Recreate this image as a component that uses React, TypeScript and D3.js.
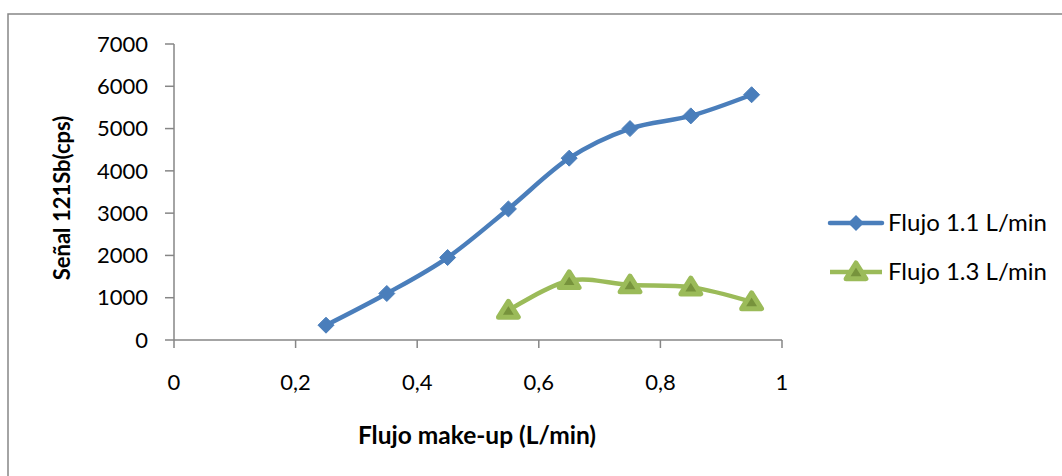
import React from "react";
import * as d3 from "d3";

const xValues = [0.25, 0.35, 0.45, 0.55, 0.65, 0.75, 0.85, 0.95];
const flujo11 = [350, 1100, 1950, 3100, 4300, 5000, 5300, 5800];
const xValues13 = [0.55, 0.65, 0.75, 0.85, 0.95];
const flujo13 = [700, 1400, 1300, 1250, 900];
const xTicks = [0, 0.2, 0.4, 0.6, 0.8, 1];
const yTicks = [0, 1000, 2000, 3000, 4000, 5000, 6000, 7000];
const seriesNames = ["Flujo 1.1 L/min", "Flujo 1.3 L/min"];

const BLUE = "#4A7EBB";
const GREEN = "#9BBB59";
const GREEN_DARK = "#77933C";
const AXIS = "#868686";
const FONT = "Lato, 'Open Sans', sans-serif";

export default function App() {
  const W = 1062, H = 476;
  const x = d3.scaleLinear().domain([0, 1]).range([174, 782]);
  const y = d3.scaleLinear().domain([0, 7000]).range([340, 44]);
  const line = d3.line<[number, number]>()
    .x(d => x(d[0])).y(d => y(d[1]))
    .curve(d3.curveCatmullRom.alpha(0));
  const s1: [number, number][] = xValues.map((v, i) => [v, flujo11[i]]);
  const s2: [number, number][] = xValues13.map((v, i) => [v, flujo13[i]]);

  const diamond = (cx: number, cy: number, r = 8) =>
    `M${cx},${cy - r}L${cx + r},${cy}L${cx},${cy + r}L${cx - r},${cy}Z`;
  const tri = (cx: number, cy: number, r: number) =>
    `M${cx},${cy - r}L${cx + r * 1.1},${cy + r * 0.75}L${cx - r * 1.1},${cy + r * 0.75}Z`;

  const Triangle = ({ cx, cy }: { cx: number; cy: number }) => (
    <g>
      <path d={tri(cx, cy, 9)} fill={GREEN_DARK} stroke={GREEN} strokeWidth={5} strokeLinejoin="round" />
    </g>
  );

  return (
    <svg width={W} height={H} style={{ position: "absolute", left: 0, top: 0, background: "#fff" }}>
      <rect x={8} y={14} width={1100} height={500} fill="#fff" stroke={AXIS} strokeWidth={1.5} />
      {/* axes */}
      <line x1={x(0)} x2={x(1)} y1={y(0)} y2={y(0)} stroke={AXIS} strokeWidth={1.5} />
      <line x1={x(0)} x2={x(0)} y1={y(0)} y2={y(7000)} stroke={AXIS} strokeWidth={1.5} />
      {yTicks.map(t => (
        <g key={"y" + t}>
          <line x1={x(0) - 9} x2={x(0)} y1={y(t)} y2={y(t)} stroke={AXIS} strokeWidth={1.5} />
          <text x={148} y={y(t)} dy="0.35em" textAnchor="end" fontFamily={FONT} fontSize={22} fill="#000">{t}</text>
        </g>
      ))}
      {xTicks.map(t => (
        <g key={"x" + t}>
          <line x1={x(t)} x2={x(t)} y1={y(0)} y2={y(0) + 8} stroke={AXIS} strokeWidth={1.5} />
          <text x={x(t)} y={390} textAnchor="middle" fontFamily={FONT} fontSize={22} fill="#000">{String(t).replace(".", ",")}</text>
        </g>
      ))}
      <text x={477} y={444} textAnchor="middle" fontFamily={FONT} fontSize={24.5} fontWeight="bold" fill="#000">Flujo make-up (L/min)</text>
      <text transform="translate(70,198) rotate(-90)" textAnchor="middle" fontFamily={FONT} fontSize={22} fontWeight="bold" fill="#000">Señal 121Sb(cps)</text>
      {/* series */}
      <path d={line(s1) || ""} fill="none" stroke={BLUE} strokeWidth={4.5} strokeLinecap="round" />
      {s1.map((d, i) => <path key={"d" + i} d={diamond(x(d[0]), y(d[1]))} fill={BLUE} stroke={BLUE} strokeWidth={1} />)}
      <path d={line(s2) || ""} fill="none" stroke={GREEN} strokeWidth={4.5} strokeLinecap="round" />
      {s2.map((d, i) => <Triangle key={"t" + i} cx={x(d[0])} cy={y(d[1])} />)}
      {/* legend */}
      <line x1={830} x2={882} y1={223} y2={223} stroke={BLUE} strokeWidth={4.5} strokeLinecap="round" />
      <path d={diamond(856, 223)} fill={BLUE} />
      <text x={888} y={223} dy="0.35em" fontFamily={FONT} fontSize={24} fill="#000">{seriesNames[0]}</text>
      <line x1={830} x2={882} y1={272} y2={272} stroke={GREEN} strokeWidth={4.5} />
      <Triangle cx={856} cy={272} />
      <text x={888} y={272} dy="0.35em" fontFamily={FONT} fontSize={24} fill="#000">{seriesNames[1]}</text>
    </svg>
  );
}
